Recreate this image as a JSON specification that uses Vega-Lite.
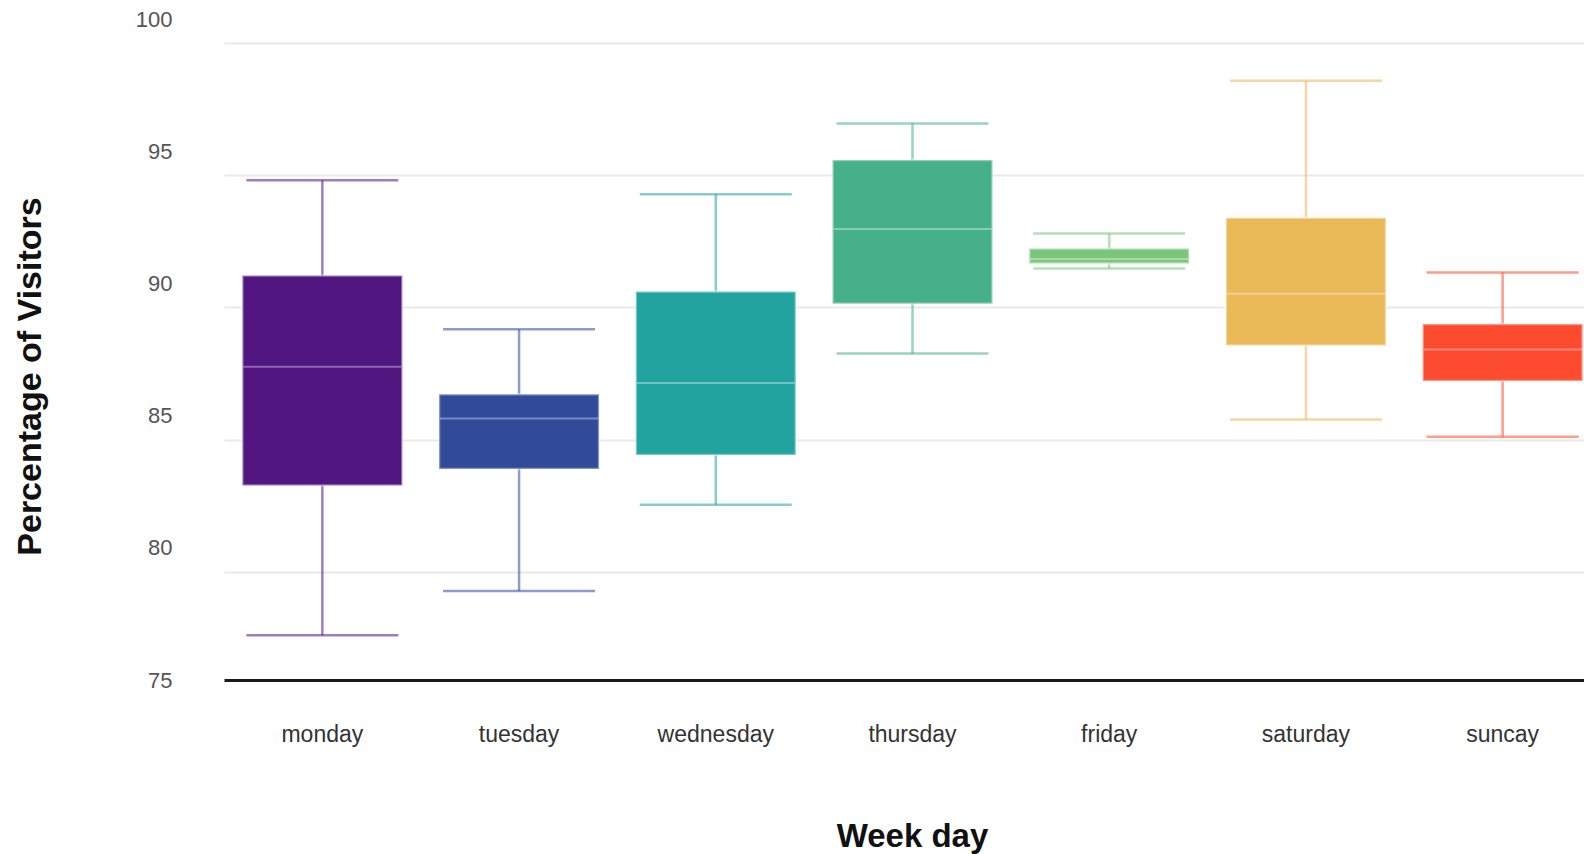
{
  "$schema": "https://vega.github.io/schema/vega-lite/v6.json",
  "autosize": {"type": "none"},
  "padding": {"left": 222, "top": 19, "right": 0, "bottom": 174},
  "width": 1362,
  "height": 661,
  "background": "white",
  "config": {"view": {"stroke": null}, "font": "Liberation Sans"},
  "data": {"values": [
    {"day": "monday", "min": 76.69, "q1": 82.36, "median": 86.85, "q3": 90.3, "max": 93.9},
    {"day": "tuesday", "min": 78.37, "q1": 82.98, "median": 84.89, "q3": 85.81, "max": 88.27},
    {"day": "wednesday", "min": 81.63, "q1": 83.51, "median": 86.23, "q3": 89.69, "max": 93.37},
    {"day": "thursday", "min": 87.35, "q1": 89.23, "median": 92.06, "q3": 94.67, "max": 96.05},
    {"day": "friday", "min": 90.56, "q1": 90.75, "median": 90.92, "q3": 91.32, "max": 91.89},
    {"day": "saturday", "min": 84.85, "q1": 87.65, "median": 89.61, "q3": 92.48, "max": 97.66},
    {"day": "suncay", "min": 84.2, "q1": 86.31, "median": 87.5, "q3": 88.46, "max": 90.41}
  ]},
  "encoding": {
    "x": {
      "field": "day", "type": "nominal", "sort": null,
      "scale": {"type": "band", "range": [2, 1379], "paddingInner": 0, "paddingOuter": 0},
      "axis": {
        "title": "Week day", "titleFont": "Liberation Sans", "titleFontSize": 33, "titleFontWeight": "bold",
        "titleColor": "#111", "titleX": 690, "titleY": 166, "titleBaseline": "alphabetic", "titleAlign": "center",
        "labelFont": "Liberation Sans", "labelFontSize": 23, "labelColor": "#333", "labelAngle": 0,
        "labelBaseline": "alphabetic", "labelPadding": 61, "ticks": false,
        "domain": true, "domainColor": "#1a1a1a", "domainWidth": 3, "grid": false
      }
    },
    "color": {
      "field": "day", "type": "nominal", "sort": null, "legend": null,
      "scale": {
        "domain": ["monday", "tuesday", "wednesday", "thursday", "friday", "saturday", "suncay"],
        "range": ["#511680", "#314a9a", "#21a3a0", "#45b08a", "#7cc67c", "#e9b857", "#fd4b30"]
      }
    }
  },
  "layer": [
    {
      "mark": {"type": "rule", "strokeWidth": 2.5, "opacity": 0.55},
      "encoding": {
        "y": {
          "field": "min", "type": "quantitative",
          "scale": {"domain": [75, 100], "zero": false, "nice": false},
          "axis": {
            "title": "Percentage of Visitors", "titleFont": "Liberation Sans", "titleFontSize": 34,
            "titleFontWeight": "bold", "titleColor": "#111", "titleX": -175, "titleY": 357,
            "titleAlign": "center", "titleBaseline": "bottom", "titleAngle": -90,
            "values": [75, 80, 85, 90, 95, 100],
            "labelFont": "Liberation Sans", "labelFontSize": 22, "labelColor": "#555",
            "labelPadding": 50, "ticks": false, "domain": false,
            "grid": true, "gridColor": "#e9e9e5", "gridWidth": 2,
            "gridOpacity": {"condition": {"test": "datum.value <= 75", "value": 0}, "value": 1},
            "tickOffset": 24, "labelOffset": -24
          }
        },
        "y2": {"field": "max"}
      }
    },
    {
      "mark": {"type": "tick", "thickness": 2.5, "size": 152, "opacity": 0.55},
      "encoding": {"y": {"field": "min", "type": "quantitative"}}
    },
    {
      "mark": {"type": "tick", "thickness": 2.5, "size": 152, "opacity": 0.55},
      "encoding": {"y": {"field": "max", "type": "quantitative"}}
    },
    {
      "mark": {"type": "bar", "size": 160, "stroke": "white", "strokeOpacity": 0.4, "strokeWidth": 2.5},
      "encoding": {
        "y": {"field": "q1", "type": "quantitative"},
        "y2": {"field": "q3"}
      }
    },
    {
      "mark": {"type": "tick", "thickness": 2, "size": 158, "color": "white", "opacity": 0.35},
      "encoding": {"y": {"field": "median", "type": "quantitative"}, "color": {"value": "white"}}
    }
  ]
}
